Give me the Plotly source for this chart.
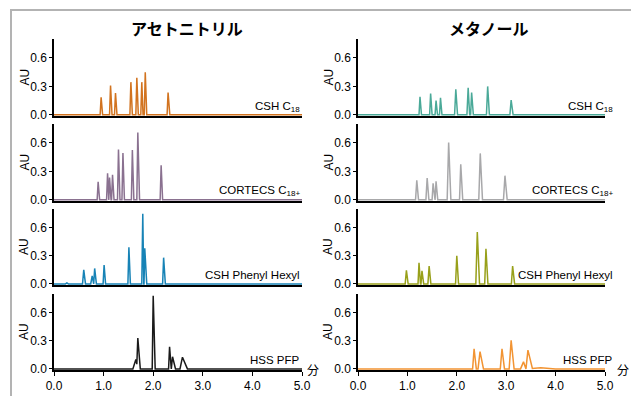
import plotly.graph_objects as go

# ---------------- data ----------------
col_titles = ["アセトニトリル", "メタノール"]
panel_labels = ["CSH C<sub>18</sub>", "CORTECS C<sub>18+</sub>", "CSH Phenyl Hexyl", "HSS PFP"]
y_title = "AU"
x_unit = "分"
x_ticks = [0, 1, 2, 3, 4, 5]
x_tick_text = ["0.0", "1.0", "2.0", "3.0", "4.0", "5.0"]
y_ticks = [0.0, 0.3, 0.6]
y_tick_text = ["0.0", "0.3", "0.6"]

# acetonitrile column: retention time (min), height (AU), left / right half widths (min)
acn_csh_rt = [0.95, 1.14, 1.24, 1.55, 1.67, 1.77, 1.84, 2.30]
acn_csh_h = [0.185, 0.31, 0.23, 0.345, 0.39, 0.345, 0.45, 0.235]
acn_csh_wl = [0.02, 0.02, 0.02, 0.02, 0.02, 0.02, 0.02, 0.02]
acn_csh_wr = [0.03, 0.03, 0.03, 0.03, 0.03, 0.025, 0.03, 0.035]

acn_cor_rt = [0.89, 1.08, 1.12, 1.18, 1.30, 1.39, 1.58, 1.69, 2.16]
acn_cor_h = [0.19, 0.28, 0.235, 0.265, 0.53, 0.495, 0.525, 0.71, 0.365]
acn_cor_wl = [0.02, 0.02, 0.015, 0.02, 0.02, 0.02, 0.02, 0.02, 0.02]
acn_cor_wr = [0.03, 0.025, 0.03, 0.03, 0.03, 0.03, 0.03, 0.035, 0.03]

acn_phx_rt = [0.26, 0.60, 0.77, 0.82, 1.01, 1.51, 1.79, 1.83, 2.21]
acn_phx_h = [0.01, 0.15, 0.085, 0.165, 0.20, 0.39, 0.75, 0.38, 0.28]
acn_phx_wl = [0.03, 0.025, 0.03, 0.02, 0.02, 0.02, 0.02, 0.015, 0.02]
acn_phx_wr = [0.03, 0.035, 0.02, 0.035, 0.03, 0.03, 0.02, 0.04, 0.035]

acn_pfp_rt = [0.30, 1.65, 1.69, 2.00, 2.33, 2.39, 2.59]
acn_pfp_h = [0.008, 0.10, 0.33, 0.78, 0.235, 0.13, 0.125]
acn_pfp_wl = [0.05, 0.06, 0.02, 0.02, 0.02, 0.025, 0.05]
acn_pfp_wr = [0.05, 0.04, 0.05, 0.04, 0.03, 0.06, 0.10]

# methanol column
meo_csh_rt = [1.255, 1.47, 1.58, 1.67, 1.98, 2.23, 2.30, 2.625, 3.10]
meo_csh_h = [0.19, 0.225, 0.15, 0.18, 0.27, 0.285, 0.235, 0.30, 0.155]
meo_csh_wl = [0.02, 0.02, 0.02, 0.02, 0.025, 0.025, 0.02, 0.025, 0.025]
meo_csh_wr = [0.03, 0.03, 0.03, 0.03, 0.035, 0.03, 0.035, 0.035, 0.04]

meo_cor_rt = [1.19, 1.40, 1.52, 1.58, 1.835, 2.08, 2.475, 2.975]
meo_cor_h = [0.205, 0.23, 0.175, 0.195, 0.605, 0.375, 0.49, 0.255]
meo_cor_wl = [0.025, 0.025, 0.02, 0.02, 0.03, 0.025, 0.03, 0.03]
meo_cor_wr = [0.035, 0.035, 0.03, 0.035, 0.045, 0.04, 0.045, 0.045]

meo_phx_rt = [0.98, 1.235, 1.295, 1.44, 2.00, 2.415, 2.59, 3.13]
meo_phx_h = [0.145, 0.225, 0.14, 0.19, 0.30, 0.555, 0.375, 0.19]
meo_phx_wl = [0.025, 0.02, 0.02, 0.025, 0.025, 0.03, 0.025, 0.025]
meo_phx_wr = [0.035, 0.03, 0.035, 0.035, 0.035, 0.045, 0.04, 0.04]

meo_pfp_rt = [2.35, 2.47, 2.915, 3.10, 3.35, 3.44, 3.70]
meo_pfp_h = [0.215, 0.185, 0.215, 0.305, 0.075, 0.20, 0.012]
meo_pfp_wl = [0.03, 0.04, 0.035, 0.04, 0.06, 0.04, 0.25]
meo_pfp_wr = [0.045, 0.07, 0.05, 0.06, 0.04, 0.09, 0.30]

panels = [
    # (col, row, rt, h, wl, wr, colour)
    (0, 0, acn_csh_rt, acn_csh_h, acn_csh_wl, acn_csh_wr, "#d2731f"),
    (0, 1, acn_cor_rt, acn_cor_h, acn_cor_wl, acn_cor_wr, "#8a7190"),
    (0, 2, acn_phx_rt, acn_phx_h, acn_phx_wl, acn_phx_wr, "#1783b6"),
    (0, 3, acn_pfp_rt, acn_pfp_h, acn_pfp_wl, acn_pfp_wr, "#1a1a1a"),
    (1, 0, meo_csh_rt, meo_csh_h, meo_csh_wl, meo_csh_wr, "#4aa998"),
    (1, 1, meo_cor_rt, meo_cor_h, meo_cor_wl, meo_cor_wr, "#a8a8aa"),
    (1, 2, meo_phx_rt, meo_phx_h, meo_phx_wl, meo_phx_wr, "#98a01a"),
    (1, 3, meo_pfp_rt, meo_pfp_h, meo_pfp_wl, meo_pfp_wr, "#f29433"),
]


def chromatogram(rt, h, wl, wr):
    xs = {0.0, 5.0}
    for r, a, b in zip(rt, wl, wr):
        xs |= {r - a, r, r + b}
    xs = sorted(x for x in xs if 0 <= x <= 5)
    ys = []
    for x in xs:
        s = 0.0
        for r, hh, a, b in zip(rt, h, wl, wr):
            if r - a <= x <= r:
                s += hh * (1 - (r - x) / a)
            elif r < x <= r + b:
                s += hh * (1 - (x - r) / b)
        ys.append(s)
    return xs, ys


# ---------------- layout geometry (pixels) ----------------
W, H = 631, 396
col_px = [(54, 302), (358, 605)]
row_px = [(39, 116), (124, 201), (209, 285), (294, 370)]


def px_x(p):
    return p / W


def px_y(p):
    return 1 - p / H


fig = go.Figure()
font = "Liberation Sans, Arial, sans-serif"
layout = {}
for i, (c, r, rt, h, wl, wr, colr) in enumerate(panels):
    n = i + 1
    xs, ys = chromatogram(rt, h, wl, wr)
    xa = "x" if n == 1 else f"x{n}"
    ya = "y" if n == 1 else f"y{n}"
    fig.add_trace(go.Scatter(x=xs, y=ys, mode="lines", xaxis=xa, yaxis=ya,
                             line=dict(color=colr, width=1.5), showlegend=False,
                             hoverinfo="skip"))
    bottom = r == 3
    layout["xaxis" if n == 1 else f"xaxis{n}"] = dict(
        domain=[px_x(col_px[c][0]), px_x(col_px[c][1])], anchor=ya,
        range=[0, 5], showgrid=False, zeroline=False, automargin=False,
        showline=True, linecolor="black", linewidth=2,
        tickvals=x_ticks, ticktext=x_tick_text,
        showticklabels=bottom, ticks="outside" if bottom else "",
        ticklen=4, tickwidth=1, tickcolor="black",
        tickfont=dict(family=font, size=12, color="black"))
    layout["yaxis" if n == 1 else f"yaxis{n}"] = dict(
        domain=[px_y(row_px[r][1]), px_y(row_px[r][0])], anchor=xa,
        range=[-0.012, 0.8], showgrid=False, zeroline=False, automargin=False,
        showline=True, linecolor="black", linewidth=1.5,
        tickvals=y_ticks, ticktext=y_tick_text,
        ticks="outside", ticklen=3, tickwidth=1, tickcolor="black",
        tickfont=dict(family=font, size=12, color="black"))

annotations = []
label_right = [302, 615]
label_y = [107, 191, 275, 360]
au_x = [24, 328]
for c in range(2):
    for r in range(4):
        annotations.append(dict(xref="paper", yref="paper", x=px_x(label_right[c]),
                                y=px_y(label_y[r]), xanchor="right", yanchor="middle",
                                text=panel_labels[r], showarrow=False,
                                font=dict(family=font, size=11.5, color="black")))
        annotations.append(dict(xref="paper", yref="paper", x=px_x(au_x[c]),
                                y=px_y((row_px[r][0] + row_px[r][1]) / 2),
                                xanchor="center", yanchor="middle", textangle=-90,
                                text=y_title, showarrow=False,
                                font=dict(family=font, size=12, color="black")))
title_x = [187, 489]
for c in range(2):
    annotations.append(dict(xref="paper", yref="paper", x=px_x(title_x[c]), y=px_y(28),
                            xanchor="center", yanchor="middle", text=f"<b>{col_titles[c]}</b>",
                            showarrow=False,
                            font=dict(family="Noto Sans CJK JP", size=16, color="black")))
for xp in [313, 623]:
    annotations.append(dict(xref="paper", yref="paper", x=px_x(xp), y=px_y(369),
                            xanchor="center", yanchor="middle", text=x_unit, showarrow=False,
                            font=dict(family="Noto Sans CJK JP", size=12, color="black")))

shapes = [
    dict(type="line", xref="paper", yref="paper", x0=px_x(10), x1=1.0, y0=px_y(10), y1=px_y(10),
         line=dict(color="#b3b3b3", width=2)),
    dict(type="line", xref="paper", yref="paper", x0=px_x(11), x1=px_x(11), y0=px_y(10), y1=0,
         line=dict(color="#b3b3b3", width=2)),
]

fig.update_layout(width=W, height=H, margin=dict(l=0, r=0, t=0, b=0),
                  paper_bgcolor="white", plot_bgcolor="white",
                  annotations=annotations, shapes=shapes, **layout)
fig.write_html("out.html")
